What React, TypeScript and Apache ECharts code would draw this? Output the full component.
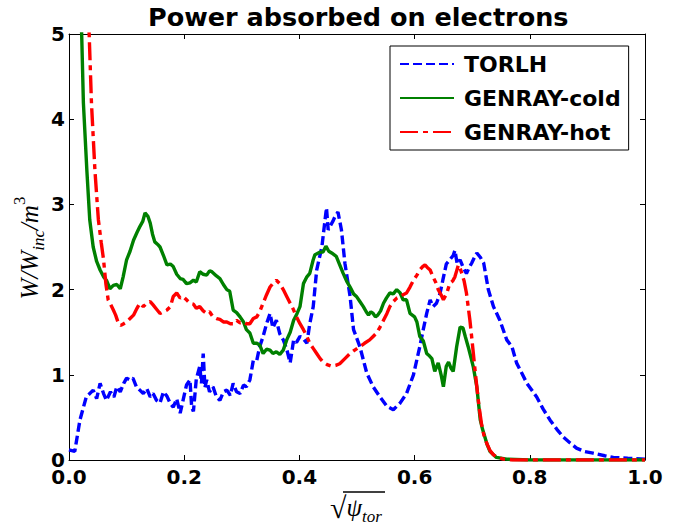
import React, { useEffect, useRef } from "react";
import * as echarts from "echarts";

const xTicks = [0, 0.2, 0.4, 0.6, 0.8, 1.0];
const yTicks = [0, 1, 2, 3, 4, 5];
const seriesNames = ["TORLH", "GENRAY-cold", "GENRAY-hot"];

const torlhX = [0.000, 0.010, 0.019, 0.030, 0.042, 0.048, 0.054, 0.060, 0.065, 0.072, 0.078, 0.083, 0.089, 0.095, 0.100, 0.106, 0.111, 0.117, 0.123, 0.129, 0.135, 0.141, 0.146, 0.152, 0.158, 0.164, 0.170, 0.176, 0.181, 0.187, 0.193, 0.198, 0.204, 0.210, 0.213, 0.216, 0.221, 0.227, 0.230, 0.233, 0.236, 0.239, 0.244, 0.250, 0.256, 0.262, 0.268, 0.274, 0.280, 0.285, 0.291, 0.297, 0.303, 0.308, 0.314, 0.320, 0.326, 0.331, 0.337, 0.343, 0.349, 0.354, 0.360, 0.366, 0.372, 0.378, 0.384, 0.390, 0.395, 0.401, 0.407, 0.413, 0.418, 0.424, 0.430, 0.439, 0.447, 0.450, 0.453, 0.458, 0.462, 0.467, 0.473, 0.479, 0.488, 0.494, 0.505, 0.517, 0.528, 0.540, 0.552, 0.563, 0.575, 0.586, 0.598, 0.609, 0.615, 0.621, 0.627, 0.632, 0.638, 0.644, 0.649, 0.655, 0.661, 0.667, 0.670, 0.674, 0.679, 0.685, 0.690, 0.695, 0.699, 0.704, 0.708, 0.714, 0.720, 0.728, 0.737, 0.748, 0.760, 0.769, 0.777, 0.786, 0.795, 0.812, 0.823, 0.835, 0.847, 0.858, 0.870, 0.881, 0.895, 0.910, 0.930, 0.945, 0.970, 1.000];
const torlhY = [0.12, 0.10, 0.47, 0.74, 0.82, 0.72, 0.90, 0.78, 0.70, 0.80, 0.74, 0.86, 0.80, 0.90, 0.96, 0.94, 0.96, 0.86, 0.82, 0.78, 0.84, 0.74, 0.78, 0.70, 0.67, 0.80, 0.75, 0.66, 0.62, 0.72, 0.55, 0.70, 0.88, 0.94, 0.62, 0.57, 0.95, 1.10, 0.90, 1.25, 0.85, 0.94, 0.80, 0.86, 0.74, 0.70, 0.80, 0.82, 0.76, 0.90, 0.80, 0.78, 0.88, 0.86, 0.94, 1.17, 1.17, 1.33, 1.45, 1.60, 1.72, 1.55, 1.64, 1.48, 1.41, 1.30, 1.14, 1.41, 1.38, 1.45, 1.42, 1.37, 1.60, 1.80, 2.23, 2.50, 2.96, 2.70, 2.74, 2.80, 2.86, 2.91, 2.70, 2.31, 1.92, 1.53, 1.33, 1.02, 0.86, 0.74, 0.63, 0.59, 0.67, 0.78, 1.00, 1.33, 1.53, 1.72, 1.88, 1.80, 1.84, 1.95, 2.11, 2.30, 2.35, 2.40, 2.46, 2.30, 2.35, 2.25, 2.19, 2.26, 2.31, 2.38, 2.43, 2.38, 2.31, 2.00, 1.80, 1.64, 1.41, 1.33, 1.14, 1.02, 0.90, 0.74, 0.60, 0.47, 0.36, 0.27, 0.20, 0.14, 0.10, 0.08, 0.05, 0.03, 0.02, 0.01];

const coldX = [0.010, 0.018, 0.022, 0.025, 0.031, 0.036, 0.042, 0.048, 0.054, 0.060, 0.065, 0.071, 0.077, 0.083, 0.089, 0.094, 0.100, 0.106, 0.112, 0.118, 0.123, 0.128, 0.132, 0.137, 0.141, 0.145, 0.149, 0.154, 0.158, 0.164, 0.170, 0.176, 0.181, 0.187, 0.193, 0.198, 0.204, 0.210, 0.216, 0.221, 0.227, 0.233, 0.239, 0.244, 0.248, 0.256, 0.262, 0.268, 0.274, 0.279, 0.285, 0.291, 0.297, 0.303, 0.308, 0.314, 0.320, 0.326, 0.331, 0.337, 0.343, 0.349, 0.354, 0.360, 0.366, 0.372, 0.378, 0.384, 0.390, 0.396, 0.401, 0.407, 0.413, 0.418, 0.424, 0.427, 0.436, 0.441, 0.446, 0.451, 0.456, 0.464, 0.470, 0.476, 0.482, 0.488, 0.494, 0.499, 0.505, 0.511, 0.516, 0.520, 0.524, 0.528, 0.532, 0.536, 0.541, 0.546, 0.551, 0.557, 0.563, 0.569, 0.575, 0.580, 0.586, 0.592, 0.600, 0.604, 0.609, 0.615, 0.621, 0.626, 0.630, 0.635, 0.641, 0.646, 0.650, 0.655, 0.659, 0.663, 0.667, 0.673, 0.679, 0.684, 0.688, 0.693, 0.698, 0.702, 0.708, 0.714, 0.718, 0.722, 0.726, 0.731, 0.742, 0.760, 0.800, 1.000];
const coldY = [8.0, 5.6, 5.0, 4.19, 3.40, 2.82, 2.50, 2.33, 2.23, 2.15, 2.11, 2.01, 2.05, 2.06, 2.01, 2.15, 2.35, 2.45, 2.58, 2.67, 2.74, 2.80, 2.90, 2.86, 2.78, 2.65, 2.56, 2.53, 2.50, 2.40, 2.29, 2.30, 2.27, 2.18, 2.13, 2.12, 2.07, 2.08, 2.11, 2.09, 2.21, 2.18, 2.17, 2.22, 2.21, 2.16, 2.13, 2.06, 2.00, 1.98, 1.76, 1.73, 1.68, 1.62, 1.53, 1.49, 1.37, 1.37, 1.35, 1.25, 1.30, 1.29, 1.25, 1.27, 1.24, 1.29, 1.41, 1.50, 1.64, 1.72, 1.80, 2.07, 2.15, 2.19, 2.35, 2.41, 2.44, 2.44, 2.51, 2.45, 2.43, 2.39, 2.29, 2.19, 2.10, 2.03, 1.95, 1.92, 1.86, 1.80, 1.74, 1.70, 1.74, 1.72, 1.68, 1.70, 1.75, 1.84, 1.90, 1.96, 1.95, 2.00, 1.96, 1.88, 1.88, 1.72, 1.68, 1.62, 1.45, 1.40, 1.25, 1.22, 1.19, 1.04, 1.14, 1.00, 0.86, 1.10, 1.15, 1.08, 1.04, 1.33, 1.56, 1.55, 1.45, 1.33, 1.20, 1.09, 0.86, 0.47, 0.36, 0.27, 0.18, 0.10, 0.03, 0.01, 0.0, 0.0];

const hotX = [0.022, 0.030, 0.035, 0.039, 0.045, 0.051, 0.056, 0.060, 0.064, 0.068, 0.072, 0.077, 0.081, 0.086, 0.090, 0.095, 0.100, 0.106, 0.112, 0.118, 0.123, 0.129, 0.135, 0.141, 0.146, 0.152, 0.158, 0.164, 0.170, 0.176, 0.181, 0.187, 0.193, 0.198, 0.204, 0.210, 0.216, 0.221, 0.227, 0.233, 0.239, 0.244, 0.250, 0.256, 0.262, 0.268, 0.274, 0.280, 0.285, 0.291, 0.297, 0.303, 0.308, 0.314, 0.320, 0.326, 0.331, 0.337, 0.343, 0.349, 0.355, 0.360, 0.366, 0.372, 0.378, 0.384, 0.390, 0.395, 0.401, 0.407, 0.413, 0.418, 0.424, 0.430, 0.436, 0.441, 0.448, 0.456, 0.463, 0.470, 0.479, 0.488, 0.496, 0.505, 0.513, 0.522, 0.528, 0.534, 0.540, 0.546, 0.552, 0.557, 0.563, 0.569, 0.575, 0.580, 0.586, 0.592, 0.598, 0.604, 0.609, 0.614, 0.618, 0.622, 0.627, 0.632, 0.637, 0.641, 0.646, 0.650, 0.656, 0.661, 0.666, 0.670, 0.673, 0.676, 0.679, 0.682, 0.686, 0.690, 0.693, 0.696, 0.699, 0.702, 0.705, 0.708, 0.712, 0.716, 0.720, 0.725, 0.731, 0.737, 0.745, 0.754, 0.770, 1.000];
const hotY = [8.0, 5.7, 5.0, 4.19, 3.40, 2.82, 2.55, 2.35, 2.07, 1.88, 1.83, 1.76, 1.70, 1.60, 1.58, 1.60, 1.62, 1.66, 1.70, 1.78, 1.84, 1.80, 1.84, 1.86, 1.82, 1.77, 1.72, 1.74, 1.76, 1.80, 1.92, 1.96, 1.90, 1.92, 1.88, 1.84, 1.83, 1.78, 1.80, 1.75, 1.72, 1.74, 1.68, 1.66, 1.65, 1.62, 1.62, 1.60, 1.60, 1.64, 1.61, 1.62, 1.60, 1.60, 1.66, 1.68, 1.74, 1.84, 1.94, 2.03, 2.08, 2.11, 2.07, 2.00, 1.92, 1.84, 1.76, 1.68, 1.60, 1.53, 1.45, 1.37, 1.31, 1.25, 1.19, 1.15, 1.12, 1.10, 1.11, 1.13, 1.19, 1.25, 1.29, 1.33, 1.37, 1.41, 1.45, 1.49, 1.56, 1.64, 1.72, 1.80, 1.86, 1.90, 1.92, 1.94, 1.96, 2.03, 2.11, 2.17, 2.23, 2.27, 2.29, 2.26, 2.23, 2.15, 2.08, 2.00, 1.94, 1.88, 1.96, 2.07, 2.10, 2.15, 2.22, 2.29, 2.25, 2.19, 2.10, 1.96, 1.80, 1.64, 1.45, 1.25, 1.05, 0.86, 0.62, 0.43, 0.30, 0.20, 0.11, 0.06, 0.03, 0.01, 0.0, 0.0];

const zip = (xs: number[], ys: number[]) => xs.map((x, i) => [x, ys[i]]);

const tickFont = { fontFamily: "DejaVu Sans", fontWeight: "bold" as const, fontSize: 20, color: "#000" };
const axisLine = { show: true, onZero: false, lineStyle: { color: "#000", width: 1 } };
const axisTick = { show: true, inside: true, length: 5, lineStyle: { color: "#000", width: 1 } };
const clear = "rgba(0,0,0,0)";

export default function App() {
  const ref = useRef<HTMLDivElement>(null);
  useEffect(() => {
    if (!ref.current) return;
    const chart = echarts.init(ref.current, undefined, { renderer: "svg" });
    const xMin = xTicks[0], xMax = xTicks[xTicks.length - 1];
    const yMin = yTicks[0], yMax = yTicks[yTicks.length - 1];
    const xAxisBase = { type: "value", min: xMin, max: xMax, interval: 0.2, splitLine: { show: false }, axisLine, axisTick };
    const yAxisBase = { type: "value", min: yMin, max: yMax, interval: 1, splitLine: { show: false }, axisLine, axisTick };
    const serif = "Liberation Serif";
    chart.setOption({
      animation: false,
      backgroundColor: "#fff",
      title: {
        text: "Power absorbed on electrons",
        left: 148,
        top: 4,
        padding: 0,
        textStyle: { fontFamily: "DejaVu Sans", fontWeight: "bold", fontSize: 25.5, color: "#000" },
      },
      grid: { left: 69, right: 36, top: 34, bottom: 66, containLabel: false, outerBoundsMode: "none" },
      xAxis: [
        { ...xAxisBase, position: "bottom", axisLabel: { ...tickFont, margin: 7, showMinLabel: true, showMaxLabel: true, formatter: (v: number) => v.toFixed(1) } },
        { ...xAxisBase, position: "top", axisLabel: { show: false } },
      ],
      yAxis: [
        { ...yAxisBase, position: "left", axisLabel: { ...tickFont, margin: 4, showMinLabel: true, showMaxLabel: true, formatter: (v: number) => String(v) } },
        { ...yAxisBase, position: "right", axisLabel: { show: false } },
      ],
      legend: {
        show: true,
        orient: "vertical",
        left: 390,
        top: 46,
        padding: [7, 8, 7, 9],
        itemGap: 12,
        itemWidth: 54,
        itemHeight: 22,
        backgroundColor: "#fff",
        borderColor: "#000",
        borderWidth: 1,
        borderRadius: 0,
        selectedMode: false,
        itemStyle: { color: clear, borderColor: clear, borderWidth: 0, opacity: 0 },
        textStyle: { fontFamily: "DejaVu Sans", fontWeight: "bold", fontSize: 22, color: "#000", lineHeight: 22, padding: [0, 0, 0, 5] },
        data: seriesNames,
      },
      series: [
        { name: seriesNames[0], type: "line", data: zip(torlhX, torlhY), symbol: "none", clip: true, z: 2,
          lineStyle: { color: "#0000ff", width: 3.4, type: [9, 4] }, itemStyle: { color: "#0000ff" } },
        { name: seriesNames[1], type: "line", data: zip(coldX, coldY), symbol: "none", clip: true, z: 3,
          lineStyle: { color: "#008000", width: 3.4, type: "solid" }, itemStyle: { color: "#008000" } },
        { name: seriesNames[2], type: "line", data: zip(hotX, hotY), symbol: "none", clip: true, z: 4,
          lineStyle: { color: "#ff0000", width: 3.4, type: [18, 5, 5, 5] }, itemStyle: { color: "#ff0000" } },
      ],
      graphic: [
        {
          type: "text",
          x: 29,
          y: 248,
          rotation: Math.PI / 2,
          style: {
            text: "{m|W/W}{s|inc}{m|/m}{p|3}",
            align: "center",
            verticalAlign: "middle",
            fill: "#000",
            rich: {
              m: { fontFamily: serif, fontStyle: "italic", fontSize: 25, lineHeight: 36, verticalAlign: "middle", fill: "#000" },
              s: { fontFamily: serif, fontStyle: "italic", fontSize: 17, lineHeight: 17, verticalAlign: "bottom", fill: "#000" },
              p: { fontFamily: serif, fontStyle: "normal", fontSize: 17, lineHeight: 17, verticalAlign: "top", fill: "#000" },
            },
          },
        },
        {
          type: "text",
          x: 356,
          y: 507,
          style: {
            text: "{r|√}{m|ψ}{s|tor}",
            align: "center",
            verticalAlign: "middle",
            fill: "#000",
            rich: {
              r: { fontFamily: serif, fontSize: 30, lineHeight: 36, verticalAlign: "middle", fill: "#000" },
              m: { fontFamily: serif, fontStyle: "italic", fontSize: 25, lineHeight: 36, verticalAlign: "middle", fill: "#000" },
              s: { fontFamily: serif, fontStyle: "italic", fontSize: 17, lineHeight: 17, verticalAlign: "bottom", fill: "#000" },
            },
          },
        },
        { type: "line", shape: { x1: 343, y1: 492, x2: 385, y2: 492 }, style: { stroke: "#000", lineWidth: 1.5 } },
      ],
    });
    return () => chart.dispose();
  }, []);
  return <div ref={ref} style={{ position: "fixed", left: 0, top: 0, width: 681, height: 526 }} />;
}
